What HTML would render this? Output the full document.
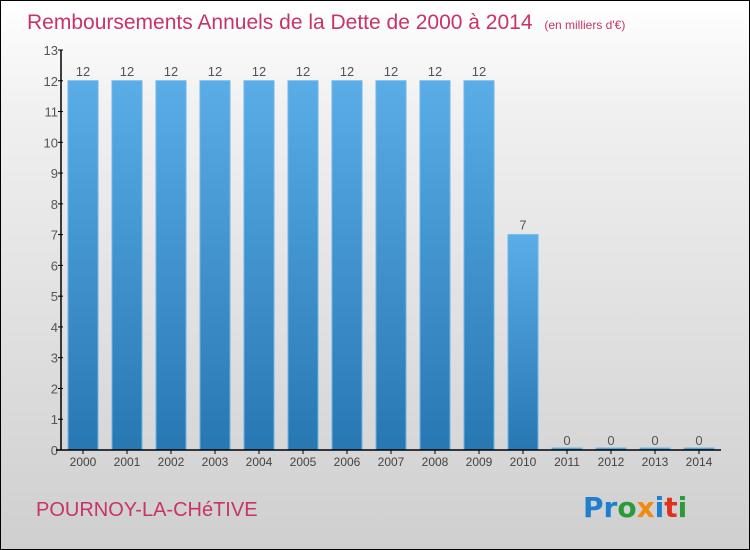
<!DOCTYPE html>
<html><head><meta charset="utf-8"><style>
html,body{margin:0;padding:0}
body{width:750px;height:550px;overflow:hidden;font-family:"Liberation Sans",sans-serif}
#wrap{position:relative;width:748px;height:548px;border:1px solid #000;background:linear-gradient(#ffffff,#f0f0f0 20%,#cfcfcf)}
</style></head><body>
<div id="wrap">
<svg id="chart" width="748" height="548" style="position:absolute;left:0;top:0">
<defs><linearGradient id="bg" x1="0" y1="0" x2="0" y2="1"><stop offset="0" stop-color="#5aade6"/><stop offset="1" stop-color="#2777b3"/></linearGradient></defs>
<text x="26" y="28" font-size="21" fill="#c8336a">Remboursements Annuels de la Dette de 2000 à 2014 <tspan font-size="12" dx="6">(en milliers d'€)</tspan></text>
<text x="35" y="515" font-size="20" fill="#c8336a">POURNOY-LA-CHéTIVE</text>
<text x="582" y="516" font-size="28" font-weight="bold" font-family="'DejaVu Sans',sans-serif"><tspan fill="#1e7fd0">Pr</tspan><tspan fill="#2a9a3a">o</tspan><tspan fill="#f08a10">x</tspan><tspan fill="#1e7fd0">i</tspan><tspan fill="#e03020">t</tspan><tspan fill="#2a9a3a">i</tspan></text>
<g id="plot"></g>
</svg>
</div>
<script>
const categories=["2000","2001","2002","2003","2004","2005","2006","2007","2008","2009","2010","2011","2012","2013","2014"];
const values=[12,12,12,12,12,12,12,12,12,12,7,0,0,0,0];
const yTicks=[0,1,2,3,4,5,6,7,8,9,10,11,12,13];
const NS="http://www.w3.org/2000/svg";
const g=document.getElementById("plot");
const x0=60,band=44,yBase=449,yTop=49,yMax=13;
const y=v=>yBase-(yBase-yTop)*v/yMax;
const xc=i=>x0+band/2+band*i;
function mk(t,a){const e=document.createElementNS(NS,t);for(const k in a)e.setAttribute(k,a[k]);g.appendChild(e);return e;}
values.forEach((v,i)=>{
 const h=Math.max(y(0)-y(v),2);
 const r=mk("rect",{x:xc(i)-15,y:y(0)-h,width:30,height:h,fill:"url(#bg)",stroke:"#6bb6ea","stroke-width":1});
 
 
 const t=mk("text",{x:xc(i),y:y(v)-5,"font-size":13,fill:"#555","text-anchor":"middle"});
 t.textContent=v;
 
 
 const l=mk("text",{x:xc(i),y:yBase+16,"font-size":12,fill:"#444","text-anchor":"middle"});
 l.textContent=categories[i];
 
 
 const tk=mk("line",{x1:xc(i),x2:xc(i),y1:yBase,y2:yBase+4,stroke:"#000"});
 
 
});
yTicks.forEach(v=>{
 const tk=mk("line",{x1:x0-3,x2:x0+2,y1:y(v),y2:y(v),stroke:"#000"});
 
 
 const t=mk("text",{x:x0-3,y:y(v)+5,"font-size":13,fill:"#555","text-anchor":"end"});
 t.textContent=v;
 
 
});
const ya=mk("line",{x1:x0,x2:x0,y1:yTop,y2:yBase,stroke:"#000","stroke-width":1.5});


const xa=mk("line",{x1:x0-5,x2:x0+band*categories.length,y1:yBase,y2:yBase,stroke:"#000","stroke-width":1.5});


</script>
</body></html>
